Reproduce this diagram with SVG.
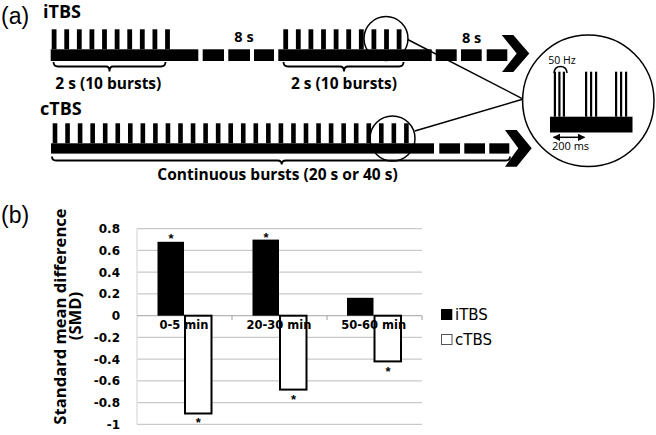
<svg xmlns="http://www.w3.org/2000/svg" xmlns:xlink="http://www.w3.org/1999/xlink" width="656" height="435" viewBox="0 0 656 435">
<style>
.lbl{font-family:"Liberation Sans",Arial,sans-serif;font-size:23px;fill:#000}
.tb{font-family:"Open Sans","DejaVu Sans",sans-serif;font-weight:bold;fill:#000}
.t{font-family:"Open Sans","DejaVu Sans",sans-serif;fill:#000}
.ch{font-family:"DejaVu Sans",Verdana,sans-serif;fill:#000}
.blk{fill:#000}
.ln{fill:none;stroke:#000;stroke-width:1.5}
.br{fill:none;stroke:#000;stroke-width:1.8}
.grid{stroke:#c9c9c9;stroke-width:1.3}
.barI{fill:#000}
.barC{fill:#fff;stroke:#000;stroke-width:2}
</style>
<defs>
<rect id="pI" width="4.8" height="20"/>
<rect id="pC" width="4.6" height="20"/>
<rect id="pz" width="2.2" height="45"/>
<marker id="ah" viewBox="0 0 10 10" refX="9" refY="5" markerWidth="5" markerHeight="5" orient="auto-start-reverse"><path d="M0,0 L10,5 L0,10 z" fill="#000"/></marker>
</defs>

<text class="lbl" x="1" y="23.5">(a)</text>
<text class="lbl" x="1" y="222.5">(b)</text>

<g id="itbs">
<text class="tb" x="43" y="18" font-size="18">iTBS</text>
<g class="blk">
<use href="#pI" x="51.7" y="29.3"/><use href="#pI" x="64.3" y="29.3"/><use href="#pI" x="76.9" y="29.3"/><use href="#pI" x="89.5" y="29.3"/><use href="#pI" x="102.1" y="29.3"/><use href="#pI" x="114.7" y="29.3"/><use href="#pI" x="127.3" y="29.3"/><use href="#pI" x="139.9" y="29.3"/><use href="#pI" x="152.5" y="29.3"/><use href="#pI" x="165.1" y="29.3"/>
<rect x="50.7" y="49.3" width="147.6" height="11.7"/>
<rect x="202.7" y="49.3" width="21.3" height="11.7"/>
<rect x="228.3" y="49.3" width="21.7" height="11.7"/>
<rect x="254" y="49.3" width="20" height="11.7"/>
<use href="#pI" x="283.3" y="29.3"/><use href="#pI" x="295.9" y="29.3"/><use href="#pI" x="308.5" y="29.3"/><use href="#pI" x="321.1" y="29.3"/><use href="#pI" x="333.7" y="29.3"/><use href="#pI" x="346.3" y="29.3"/><use href="#pI" x="358.9" y="29.3"/><use href="#pI" x="371.5" y="29.3"/><use href="#pI" x="384.1" y="29.3"/><use href="#pI" x="396.7" y="29.3"/>
<rect x="278.3" y="49.3" width="153.4" height="11.7"/>
<rect x="435.7" y="49.3" width="21" height="11.7"/>
<rect x="461" y="49.3" width="20.7" height="11.7"/>
<rect x="486.7" y="49.3" width="20.6" height="11.7"/>
<polygon points="501.7,35 513.3,35 529.3,53.5 513.3,72 502,72 516.7,53.5"/>
</g>
<path class="br" d="M53.5,62 Q53.5,66.5 58,66.5 H106 Q109.5,66.5 109.5,71.5 Q109.5,66.5 113,66.5 H161 Q165.5,66.5 165.5,62"/>
<path class="br" d="M283.5,62 Q283.5,66.5 288,66.5 H340 Q344,66.5 344,71.5 Q344,66.5 348,66.5 H399 Q403.5,66.5 403.5,62"/>
<text class="tb" x="108.3" y="88.5" font-size="15.5" text-anchor="middle">2 s (10 bursts)</text>
<text class="tb" x="344" y="88.5" font-size="15.5" text-anchor="middle">2 s (10 bursts)</text>
<text class="tb" x="244" y="42" font-size="14.5" text-anchor="middle">8 s</text>
<text class="tb" x="471.7" y="43" font-size="14.5" text-anchor="middle">8 s</text>
<circle class="ln" cx="386" cy="38.5" r="22"/>
</g>

<g id="ctbs">
<text class="tb" x="40" y="115" font-size="18">cTBS</text>
<g class="blk">
<use href="#pC" x="52.7" y="123.3"/><use href="#pC" x="65.25" y="123.3"/><use href="#pC" x="77.8" y="123.3"/><use href="#pC" x="90.35" y="123.3"/><use href="#pC" x="102.9" y="123.3"/><use href="#pC" x="115.45" y="123.3"/><use href="#pC" x="128" y="123.3"/><use href="#pC" x="140.55" y="123.3"/><use href="#pC" x="153.1" y="123.3"/><use href="#pC" x="165.65" y="123.3"/><use href="#pC" x="178.2" y="123.3"/><use href="#pC" x="190.75" y="123.3"/><use href="#pC" x="203.3" y="123.3"/><use href="#pC" x="215.85" y="123.3"/><use href="#pC" x="228.4" y="123.3"/><use href="#pC" x="240.95" y="123.3"/><use href="#pC" x="253.5" y="123.3"/><use href="#pC" x="266.05" y="123.3"/><use href="#pC" x="278.6" y="123.3"/><use href="#pC" x="291.15" y="123.3"/><use href="#pC" x="303.7" y="123.3"/><use href="#pC" x="316.25" y="123.3"/><use href="#pC" x="328.8" y="123.3"/><use href="#pC" x="341.35" y="123.3"/><use href="#pC" x="353.9" y="123.3"/><use href="#pC" x="366.45" y="123.3"/><use href="#pC" x="379" y="123.3"/><use href="#pC" x="391.55" y="123.3"/><use href="#pC" x="404.1" y="123.3"/>
<rect x="51" y="143.3" width="383" height="10.3"/>
<rect x="439.3" y="143.3" width="20.7" height="10.3"/>
<rect x="464.3" y="143.3" width="20.7" height="10.3"/>
<rect x="489.3" y="143.3" width="20" height="10.3"/>
<polygon points="505,130 516.7,130 531.7,148.3 516.7,166.7 505,166.7 518.3,148.3"/>
</g>
<path class="br" d="M52,156.5 Q52,160.5 56,160.5 H277.5 Q281.7,160.5 281.7,164.5 Q281.7,160.5 286,160.5 H506 Q510,160.5 510,156.5"/>
<text class="tb" x="277.5" y="180" font-size="15.5" text-anchor="middle">Continuous bursts (20 s or 40 s)</text>
<circle class="ln" cx="392.5" cy="138.5" r="22.5"/>
</g>

<g id="connectors">
<line class="ln" x1="407.7" y1="39.5" x2="522.7" y2="98.8"/>
<line class="ln" x1="414.8" y1="131" x2="522.7" y2="99.2"/>
</g>

<g id="zoom">
<circle class="ln" cx="588.3" cy="100.8" r="65.7" stroke-width="1.8"/>
<g class="blk">
<use href="#pz" x="553.8" y="71.7"/><use href="#pz" x="558.3" y="71.7"/><use href="#pz" x="562.8" y="71.7"/>
<use href="#pz" x="585" y="71.7"/><use href="#pz" x="590" y="71.7"/><use href="#pz" x="595" y="71.7"/>
<use href="#pz" x="615" y="71.7"/><use href="#pz" x="620" y="71.7"/><use href="#pz" x="625" y="71.7"/>
<rect x="550" y="116.7" width="82.5" height="15.8"/>
</g>
<path class="ln" stroke-width="1.2" d="M554,73 Q554.5,66.5 560.5,66.5 Q566.5,66.5 567,73"/>
<text class="t" x="562" y="63.5" font-size="10.5" text-anchor="middle">50 Hz</text>
<line class="ln" stroke-width="1.3" x1="553.5" y1="137.3" x2="584.5" y2="137.3" marker-start="url(#ah)" marker-end="url(#ah)"/>
<text class="t" x="570.5" y="150" font-size="11" text-anchor="middle">200 ms</text>
</g>

<g id="chart">
<g class="grid">
<line x1="137" y1="228.7" x2="422" y2="228.7"/>
<line x1="137" y1="250.4" x2="422" y2="250.4"/>
<line x1="137" y1="272.2" x2="422" y2="272.2"/>
<line x1="137" y1="293.9" x2="422" y2="293.9"/>
<line x1="137" y1="337.4" x2="422" y2="337.4"/>
<line x1="137" y1="359.2" x2="422" y2="359.2"/>
<line x1="137" y1="380.9" x2="422" y2="380.9"/>
<line x1="137" y1="402.7" x2="422" y2="402.7"/>
<line x1="137" y1="424.4" x2="422" y2="424.4"/>
<line x1="137" y1="228.7" x2="137" y2="424.4" stroke="#dcdcdc"/>
<line x1="137" y1="315.7" x2="422" y2="315.7" stroke="#b5b5b5"/>
<line x1="232" y1="315.7" x2="232" y2="320" stroke="#b5b5b5"/>
<line x1="327" y1="315.7" x2="327" y2="320" stroke="#b5b5b5"/>
<line x1="422" y1="315.7" x2="422" y2="320" stroke="#b5b5b5"/>
</g>
<g class="ch" font-size="12" font-weight="bold" text-anchor="end">
<text x="120" y="233">0.8</text>
<text x="120" y="254.7">0.6</text>
<text x="120" y="276.5">0.4</text>
<text x="120" y="298.2">0.2</text>
<text x="120" y="320">0</text>
<text x="120" y="341.7">-0.2</text>
<text x="120" y="363.5">-0.4</text>
<text x="120" y="385.2">-0.6</text>
<text x="120" y="407">-0.8</text>
<text x="120" y="428.7">-1</text>
</g>
<g class="tb" font-size="16.6" text-anchor="middle">
<text transform="translate(66,316.5) rotate(-90)">Standard mean difference</text>
<text transform="translate(81,316) rotate(-90)">(SMD)</text>
</g>
<rect class="barI" x="157.5" y="241.8" width="26.5" height="73.9"/>
<rect class="barC" x="185" y="315.7" width="26.5" height="97.8"/>
<rect class="barI" x="252.5" y="239.6" width="26.5" height="76.1"/>
<rect class="barC" x="280" y="315.7" width="26.5" height="73.9"/>
<rect class="barI" x="347" y="297.8" width="26.5" height="17.9"/>
<rect class="barC" x="374.5" y="315.7" width="26.5" height="45.7"/>
<g class="ch" font-size="11.5" font-weight="bold" text-anchor="middle">
<text x="184" y="328.5">0-5 min</text>
<text x="279" y="328.5">20-30 min</text>
<text x="373.7" y="328.5">50-60 min</text>
</g>
<g font-family="Liberation Sans, Arial, sans-serif" font-weight="bold" font-size="13" fill="#000" text-anchor="middle">
<text x="171" y="243">*</text>
<text x="266" y="242.2">*</text>
<text x="198.3" y="426.5">*</text>
<text x="293.5" y="403.5">*</text>
<text x="388" y="375.8">*</text>
</g>
</g>

<g id="legend">
<rect x="441" y="309" width="11.3" height="11" fill="#000"/>
<text class="ch" x="455" y="320" font-size="15">iTBS</text>
<rect x="441.5" y="334.5" width="10.5" height="10" fill="#fff" stroke="#555" stroke-width="1"/>
<text class="ch" x="455" y="345" font-size="15">cTBS</text>
</g>
</svg>
